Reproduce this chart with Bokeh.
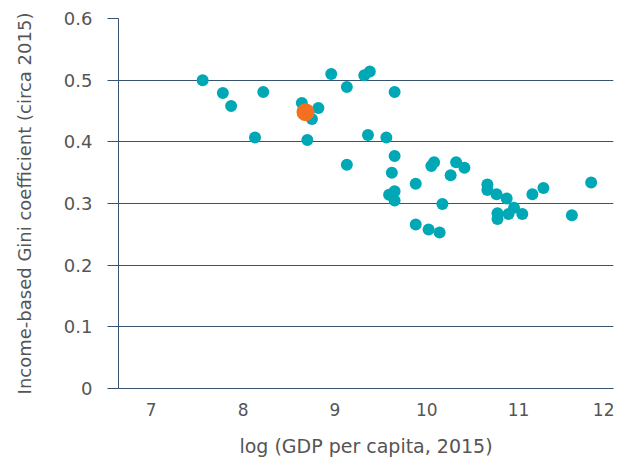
from bokeh.plotting import figure
from bokeh.models import Range1d, FixedTicker, ColumnDataSource
from bokeh.embed import file_html
from bokeh.resources import INLINE

# Data: log GDP per capita (2015) vs income-based Gini coefficient (circa 2015)
log_gdp = [7.56, 7.78, 7.87, 8.22, 8.13, 8.64, 8.82, 8.75, 8.70, 8.96,
           9.13, 9.32, 9.38, 9.65, 9.36, 9.56, 9.65, 9.13, 9.62, 9.59,
           9.65, 9.65, 9.88, 10.08, 10.05, 10.32, 10.41, 10.26, 10.17, 9.88,
           10.02, 10.14, 10.66, 10.66, 10.76, 10.87, 10.95, 10.89, 11.04, 10.77,
           10.77, 11.15, 11.27, 11.58, 11.79]
gini = [0.500, 0.479, 0.458, 0.481, 0.407, 0.463, 0.455, 0.437, 0.403, 0.510,
        0.489, 0.508, 0.514, 0.481, 0.411, 0.407, 0.377, 0.363, 0.350, 0.314,
        0.320, 0.305, 0.332, 0.367, 0.361, 0.367, 0.358, 0.346, 0.299, 0.266,
        0.258, 0.253, 0.331, 0.322, 0.315, 0.308, 0.293, 0.283, 0.283, 0.284,
        0.275, 0.315, 0.325, 0.281, 0.334]

highlight_x = [8.68]
highlight_y = [0.448]

x_ticks = [7, 8, 9, 10, 11, 12]
y_ticks = [0, 0.1, 0.2, 0.3, 0.4, 0.5, 0.6]

FONT = "DejaVu Sans"
TEXT = "#555555"
LINE = "#37536f"

p = figure(width=614, height=459, output_backend="svg", toolbar_location=None,
           x_range=Range1d(6.644, 12.033), y_range=Range1d(0, 0.6),
           min_border_left=118, min_border_right=1, min_border_top=18,
           min_border_bottom=69)
p.outline_line_color = None
p.background_fill_color = "white"
p.border_fill_color = "white"

# axes
p.xaxis.ticker = FixedTicker(ticks=x_ticks)
p.yaxis.ticker = FixedTicker(ticks=y_ticks)
p.yaxis.major_label_overrides = {0: "0"}
p.xaxis.axis_line_color = LINE
p.yaxis.axis_line_color = LINE
p.xaxis.major_tick_line_color = None
p.xaxis.minor_tick_line_color = None
p.yaxis.minor_tick_line_color = None
p.yaxis.major_tick_line_color = LINE
p.yaxis.major_tick_out = 11
p.yaxis.major_tick_in = 0
for ax in (p.xaxis, p.yaxis):
    ax.major_label_text_font = FONT
    ax.major_label_text_color = TEXT
    ax.axis_label_text_font = FONT
    ax.axis_label_text_color = TEXT
    ax.axis_label_text_font_style = "normal"
p.xaxis.major_label_text_font_size = "17px"
p.yaxis.major_label_text_font_size = "18px"
p.xaxis.axis_label_text_font_size = "19px"
p.yaxis.axis_label_text_font_size = "18px"
p.xaxis.major_label_standoff = 8
p.yaxis.major_label_standoff = 15
p.xaxis.axis_label_standoff = 16
p.yaxis.axis_label_standoff = 26
p.xaxis.axis_label = "log (GDP per capita, 2015)"
p.yaxis.axis_label = "Income-based Gini coefficient (circa 2015)"

p.xgrid.grid_line_color = None
p.ygrid.grid_line_color = LINE
p.ygrid.grid_line_width = 1
p.ygrid.ticker = FixedTicker(ticks=y_ticks)

src = ColumnDataSource(dict(x=log_gdp, y=gini))
p.scatter("x", "y", source=src, size=12, fill_color="#00a8b5", line_color=None)
p.scatter(highlight_x, highlight_y, size=18, fill_color="#f37021", line_color=None)

open("out.html", "w").write(file_html(p, INLINE))
